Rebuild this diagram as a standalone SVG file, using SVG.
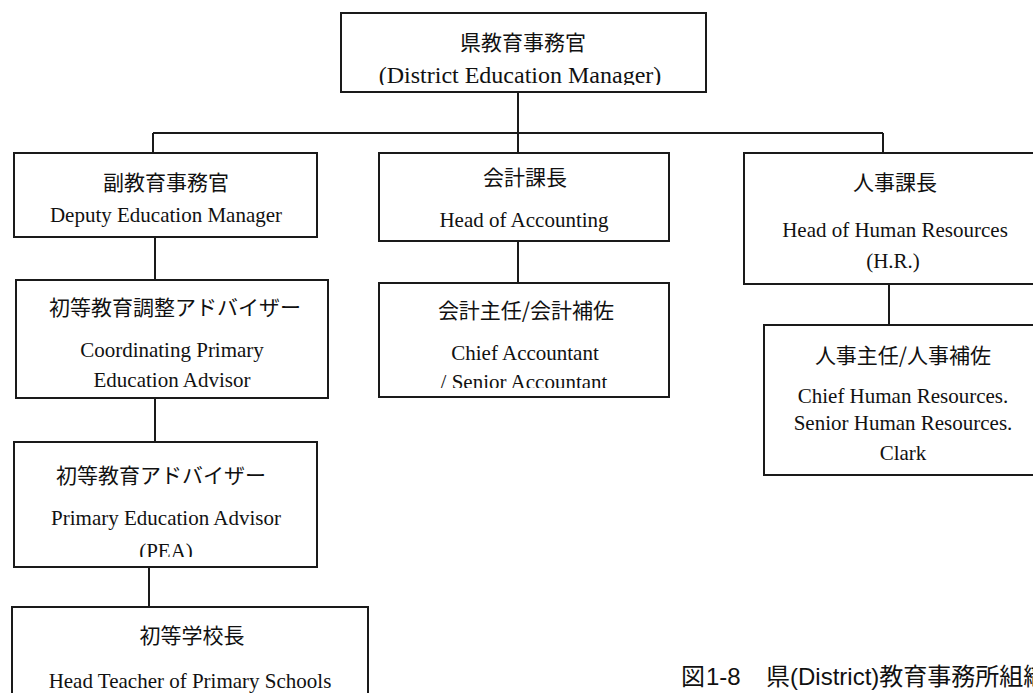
<svg xmlns="http://www.w3.org/2000/svg" width="1033" height="693" viewBox="0 0 1033 693">
<style>
.box{fill:#fff;stroke:#1a1a1a;stroke-width:2}
.ln{stroke:#1a1a1a;stroke-width:2;fill:none}
.jp{font-family:"Noto Sans CJK JP","Noto Sans CJK SC",sans-serif;font-size:21px;fill:#111;text-anchor:middle}
.en{font-family:"Liberation Serif","Times New Roman",serif;font-size:21px;fill:#111;text-anchor:middle}
.cap{font-family:"Liberation Sans","Noto Sans CJK JP",sans-serif;font-size:24px;fill:#111}
</style>
<defs>
<clipPath id="cTop"><rect x="341" y="13" width="365" height="72"/></clipPath>
<clipPath id="cPea"><rect x="14" y="442" width="303" height="115"/></clipPath>
<clipPath id="cAcc"><rect x="379" y="283" width="290" height="105"/></clipPath>
</defs>
<g id="connectors">
<path class="ln" d="M518 92V133M153 133H883M153 133V153M518 133V153M883 133V153M155 237V280M518 241V283M889 284V325M155 398V442M149 567V607"/>
</g>
<g id="n-top">
<rect class="box" x="341" y="13" width="365" height="79"/>
<text class="jp" x="523" y="50">県教育事務官</text>
<text class="en" x="520" y="83" style="font-size:24px" clip-path="url(#cTop)">(District Education Manager)</text>
</g>
<g id="n-deputy">
<rect class="box" x="14" y="153" width="303" height="84"/>
<text class="jp" x="166" y="190">副教育事務官</text>
<text class="en" x="166" y="222">Deputy Education Manager</text>
</g>
<g id="n-acc">
<rect class="box" x="379" y="153" width="290" height="88"/>
<text class="jp" x="525" y="185">会計課長</text>
<text class="en" x="524" y="227">Head of Accounting</text>
</g>
<g id="n-hr">
<rect class="box" x="744" y="153" width="302" height="131"/>
<text class="jp" x="895" y="190">人事課長</text>
<text class="en" x="895" y="237">Head of Human Resources</text>
<text class="en" x="893" y="268">(H.R.)</text>
</g>
<g id="n-coord">
<rect class="box" x="16" y="280" width="312" height="118"/>
<text class="jp" x="175" y="315">初等教育調整アドバイザー</text>
<text class="en" x="172" y="357">Coordinating Primary</text>
<text class="en" x="172" y="387">Education Advisor</text>
</g>
<g id="n-accsub">
<rect class="box" x="379" y="283" width="290" height="114"/>
<text class="jp" x="526" y="318">会計主任/会計補佐</text>
<text class="en" x="525" y="360">Chief Accountant</text>
<text class="en" x="524" y="389" clip-path="url(#cAcc)">/ Senior Accountant</text>
</g>
<g id="n-hrsub">
<rect class="box" x="764" y="325" width="280" height="150"/>
<text class="jp" x="903" y="363">人事主任/人事補佐</text>
<text class="en" x="903" y="403">Chief Human Resources.</text>
<text class="en" x="903" y="430">Senior Human Resources.</text>
<text class="en" x="903" y="460">Clark</text>
</g>
<g id="n-pea">
<rect class="box" x="14" y="442" width="303" height="125"/>
<text class="jp" x="161" y="483">初等教育アドバイザー</text>
<text class="en" x="166" y="525">Primary Education Advisor</text>
<text class="en" x="166" y="558" clip-path="url(#cPea)">(PEA)</text>
</g>
<g id="n-head">
<rect class="box" x="12" y="607" width="356" height="100"/>
<text class="jp" x="192" y="643">初等学校長</text>
<text class="en" x="190" y="688">Head Teacher of Primary Schools</text>
</g>
<g id="caption">
<text class="cap" y="685"><tspan x="681">図</tspan><tspan x="706">1-8</tspan><tspan x="766">県(District)教育事務所組織</tspan></text>
</g>
</svg>
